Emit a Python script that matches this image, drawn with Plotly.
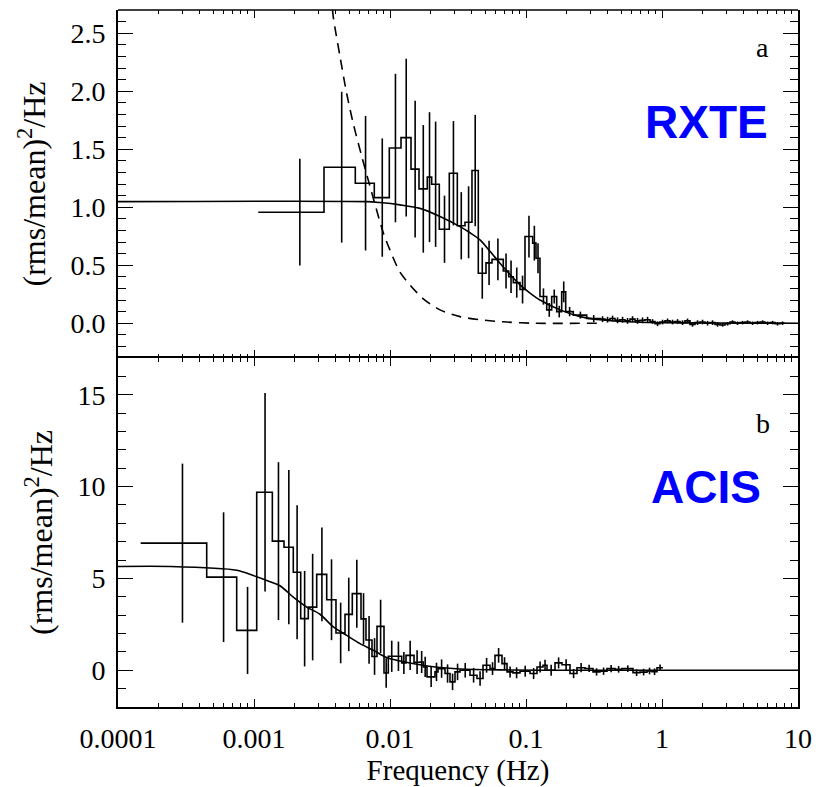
import plotly.graph_objects as go
from plotly.subplots import make_subplots

# %%
# panel a (RXTE): bin edges in Hz, power per bin, 1-sigma error per bin
rxte_edges = [0.001075, 0.003271, 0.005557, 0.007665, 0.009883, 0.01205, 0.01427, 0.01634, 0.01880, 0.02025,
              0.02304, 0.02729, 0.03126, 0.03559, 0.04007, 0.04459, 0.05079, 0.05623, 0.06808, 0.07460,
              0.08065, 0.09035, 0.09831, 0.1120, 0.1184, 0.1267, 0.1420, 0.1545, 0.1681, 0.1830,
              0.1958, 0.2228, 0.2795, 0.3499, 0.3810, 0.4146, 0.4512, 0.4912, 0.5344, 0.5816,
              0.6330, 0.6889, 0.7499, 0.8161, 0.8882, 0.9667, 1.052, 1.145, 1.246, 1.356,
              1.476, 1.606, 1.748, 1.902, 2.071, 2.254, 2.453, 2.670, 2.905, 3.162,
              3.442, 3.746, 4.077, 4.437, 4.829, 5.256, 5.720, 6.225, 6.775, 7.374, 8.025]
rxte_pow = [0.957, 1.345, 1.207, 1.083, 1.51, 1.60, 1.328, 1.158, 1.259, 1.198,
            0.81, 1.293, 0.84, 0.87, 1.316, 0.431, 0.52, 0.55, 0.45, 0.40,
            0.35, 0.29, 0.747, 0.69, 0.56, 0.23, 0.115, 0.23, 0.10, 0.27,
            0.10, 0.07, 0.04,
            0.035, 0.03, 0.04, 0.025, 0.03, 0.02, 0.035, 0.02, 0.025, 0.03,
            0.015, -0.005, 0.01, 0.02, 0.01, 0.015, 0.005, 0.02, -0.01, 0.005,
            0.01, 0.0, 0.005, -0.01, -0.015, -0.005, 0.01, 0.0, 0.005, 0.01,
            0.0, 0.005, 0.01, 0.0, 0.005, -0.005, 0.0]
rxte_err = [0.46, 0.65, 0.58, 0.51, 0.64, 0.68, 0.59, 0.55, 0.56, 0.54,
            0.29, 0.45, 0.29, 0.31, 0.48, 0.22, 0.19, 0.18, 0.15, 0.14,
            0.13, 0.12, 0.18, 0.15, 0.13, 0.07, 0.06, 0.06, 0.05, 0.09,
            0.04, 0.03, 0.03,
            0.025, 0.025, 0.025, 0.025, 0.025, 0.025, 0.025, 0.025, 0.025, 0.025,
            0.02, 0.02, 0.02, 0.02, 0.02, 0.02, 0.02, 0.02, 0.02, 0.02,
            0.02, 0.02, 0.02, 0.02, 0.015, 0.015, 0.015, 0.015, 0.015, 0.015,
            0.015, 0.015, 0.015, 0.015, 0.015, 0.015, 0.015]

# model curves for panel a
rxte_model_f = [0.0001, 0.00674, 0.008442, 0.01184, 0.01662, 0.02331, 0.03271, 0.03876, 0.04590, 0.05435,
                0.06440, 0.07626, 0.09035, 0.1070, 0.1267, 0.1778, 0.2495, 0.3499, 0.6889, 1.902, 10.0]
rxte_model_p = [1.048, 1.048, 1.04, 1.02, 0.99, 0.92, 0.833, 0.78, 0.718, 0.62,
                0.517, 0.42, 0.33, 0.26, 0.2, 0.115, 0.057, 0.03, 0.008, 0.002, 0.0]
rxte_dash_f = [0.003683, 0.003828, 0.004289, 0.004803, 0.005371, 0.006192, 0.007127, 0.008926, 0.01, 0.01184,
               0.01403, 0.01757, 0.02331, 0.03271, 0.04590, 0.06808, 0.1120, 0.3499]
rxte_dash_p = [2.85, 2.64, 2.30, 1.98, 1.72, 1.44, 1.18, 0.78, 0.63, 0.44,
               0.33, 0.21, 0.115, 0.057, 0.03, 0.012, 0.0, 0.0]

# panel b (ACIS)
acis_edges = [0.0001468, 0.0004490, 0.0007460, 0.001047, 0.001364, 0.001662, 0.001945, 0.002205, 0.002507, 0.002891,
              0.003424, 0.004007, 0.004668, 0.005281, 0.006120, 0.006659, 0.007372, 0.008024, 0.009035, 0.009716,
              0.01088, 0.01219, 0.01311, 0.01502, 0.01662, 0.01757, 0.01871, 0.02142, 0.02253, 0.02538,
              0.02762, 0.03006, 0.03271, 0.03876, 0.04361, 0.04829, 0.05435, 0.05916, 0.06660, 0.07250,
              0.08024, 0.09035, 0.1070, 0.1205, 0.1334, 0.1427, 0.1634, 0.1839, 0.2106, 0.2371,
              0.2715, 0.3109, 0.3499, 0.3941, 0.4512, 0.5081, 0.6120, 0.6889, 0.7757, 0.8444,
              0.9189, 1.017]
acis_pow = [6.92, 5.07, 2.17, 9.69, 7.03, 6.70, 5.34, 2.81, 3.44, 5.22,
            3.84, 2.03, 3.04, 4.17, 2.8, 1.65, 0.75, 2.39, -0.15, 0.76,
            0.76, 0.40, 0.81, 0.44, 0.45, 0.18, -0.36, -0.09, 0.09, -0.18,
            -0.63, -0.09, 0.0, -0.27, -0.45, 0.27, 0.09, 0.81, 0.36, -0.09,
            -0.14, -0.05, -0.18, 0.18, 0.27, 0.0, 0.40, 0.30, -0.18, 0.14,
            0.1, -0.09, -0.05, 0.09, 0.05, 0.09, -0.13, -0.1, -0.04, -0.08,
            0.14]
acis_err = [4.33, 3.53, 2.37, 5.4, 4.3, 4.2, 3.65, 2.6, 2.9, 2.55,
            2.2, 1.65, 2.0, 1.85, 1.4, 1.3, 1.0, 1.45, 0.8, 0.85,
            0.8, 0.6, 0.8, 0.65, 0.6, 0.55, 0.55, 0.5, 0.5, 0.5,
            0.45, 0.45, 0.4, 0.4, 0.4, 0.4, 0.35, 0.4, 0.35, 0.3,
            0.3, 0.3, 0.3, 0.3, 0.3, 0.3, 0.3, 0.3, 0.25, 0.25,
            0.2, 0.2, 0.2, 0.2, 0.18, 0.18, 0.18, 0.18, 0.18, 0.18,
            0.18]

acis_model_f = [0.0001, 0.0002441, 0.000746, 0.0009883, 0.00124, 0.001553, 0.001945, 0.002441, 0.003056, 0.003828,
                0.004803, 0.006017, 0.007537, 0.009456, 0.01184, 0.01662, 0.02331, 0.03271, 0.0644, 0.1501, 10.0]
acis_model_p = [5.65, 5.65, 5.45, 5.16, 4.89, 4.6, 3.98, 3.44, 3.05, 2.36,
                1.90, 1.45, 1.09, 0.69, 0.50, 0.30, 0.15, 0.07, 0.02, 0.0, 0.0]

x_major = [0.0001, 0.001, 0.01, 0.1, 1, 10]
x_major_text = ['0.0001', '0.001', '0.01', '0.1', '1', '10']

# %%
x_minor = [m * d for d in [0.0001, 0.001, 0.01, 0.1, 1] for m in range(2, 10)]
FONT = 'Liberation Serif'
LW = 1.6
tick_font = dict(family=FONT, size=28, color='black')
title_font = dict(family=FONT, size=29, color='black')
ytitle_font = dict(family=FONT, size=32, color='black')

fig = make_subplots(rows=2, cols=1, shared_xaxes=True, vertical_spacing=0,
                    row_heights=[0.4993, 0.5007])


def add_panel(row, edges, pw, err, model_f, model_p):
    centers = [(a + b) / 2 for a, b in zip(edges[:-1], edges[1:])]
    fig.add_trace(go.Scatter(x=edges, y=pw + [pw[-1]], mode='lines', line_shape='hv',
                             line=dict(color='black', width=LW), showlegend=False), row=row, col=1)
    fig.add_trace(go.Scatter(x=centers, y=pw, mode='markers', marker=dict(size=1, color='black'),
                             error_y=dict(type='data', array=err, color='black', thickness=LW, width=0),
                             showlegend=False), row=row, col=1)
    fig.add_trace(go.Scatter(x=model_f, y=model_p, mode='lines', line_shape='spline',
                             line=dict(color='black', width=LW, smoothing=0.8), showlegend=False), row=row, col=1)


add_panel(1, rxte_edges, rxte_pow, rxte_err, rxte_model_f, rxte_model_p)
fig.add_trace(go.Scatter(x=rxte_dash_f, y=rxte_dash_p, mode='lines', line_shape='spline',
                         line=dict(color='black', width=LW, dash='10px,7px', smoothing=0.8),
                         showlegend=False), row=1, col=1)
add_panel(2, acis_edges, acis_pow, acis_err, acis_model_f, acis_model_p)

axis_common = dict(showline=True, linecolor='black', linewidth=1.6, mirror='allticks', automargin=False,
                   ticks='inside', tickcolor='black', tickwidth=1.4, showgrid=False, zeroline=False,
                   tickfont=tick_font)

for r in (1, 2):
    fig.update_xaxes(type='log', range=[-4, 1], tickmode='array', tickvals=x_major,
                     ticktext=x_major_text, ticklen=8,
                     minor=dict(tickmode='array', tickvals=x_minor, ticks='inside', ticklen=4,
                                tickwidth=1.2, tickcolor='black', showgrid=False),
                     row=r, col=1, **axis_common)
# top panel: hide its own x lines so the shared edge is drawn once (by the lower panel)
fig.update_xaxes(showticklabels=False, linecolor='rgba(0,0,0,0)', row=1, col=1)
fig.update_xaxes(title=dict(text='Frequency (Hz)', font=title_font, standoff=2), ticklabelstandoff=6,
                 row=2, col=1)

fig.update_yaxes(range=[-0.3, 2.7], tickmode='linear', tick0=0, dtick=0.5, tickformat='.1f', ticklen=15,
                 minor=dict(dtick=0.1, tick0=0, ticks='inside', ticklen=8, tickwidth=1.2,
                            tickcolor='black', showgrid=False),
                 title=dict(text='(rms/mean)<sup>2</sup>/Hz', font=ytitle_font), ticklabelstandoff=5,
                 row=1, col=1, **axis_common)
fig.update_yaxes(range=[-2, 17], tickmode='linear', tick0=0, dtick=5, ticklen=15,
                 minor=dict(dtick=1, tick0=0, ticks='inside', ticklen=8, tickwidth=1.2,
                            tickcolor='black', showgrid=False),
                 title=dict(text='(rms/mean)<sup>2</sup>/Hz', font=ytitle_font), ticklabelstandoff=5,
                 row=2, col=1, **axis_common)

# top edge of the frame
fig.add_shape(type='line', xref='paper', yref='paper', x0=0, x1=1, y0=1, y1=1,
              line=dict(color='black', width=LW))

label_font = dict(family=FONT, size=28, color='black')
tag_font = dict(family='Liberation Sans', size=46, color='#0000ff')
fig.add_annotation(x=0.9485, y=0.9455, xref='paper', yref='paper', text='a', showarrow=False,
                   xanchor='center', yanchor='middle', font=label_font)
fig.add_annotation(x=0.9485, y=0.407, xref='paper', yref='paper', text='b', showarrow=False,
                   xanchor='center', yanchor='middle', font=label_font)
fig.add_annotation(x=0.8654, y=0.8386, xref='paper', yref='paper', text='<b>RXTE</b>', showarrow=False,
                   xanchor='center', yanchor='middle', font=tag_font)
fig.add_annotation(x=0.8647, y=0.3156, xref='paper', yref='paper', text='<b>ACIS</b>', showarrow=False,
                   xanchor='center', yanchor='middle', font=tag_font)

# the page body adds an 8px offset, so the figure is 8px smaller and margins shifted
fig.update_layout(width=817, height=779, margin=dict(l=110, r=27, t=2, b=80, autoexpand=False),
                  plot_bgcolor='white', paper_bgcolor='white',
                  font=dict(family=FONT, size=28, color='black'))

fig.write_html("out.html")
